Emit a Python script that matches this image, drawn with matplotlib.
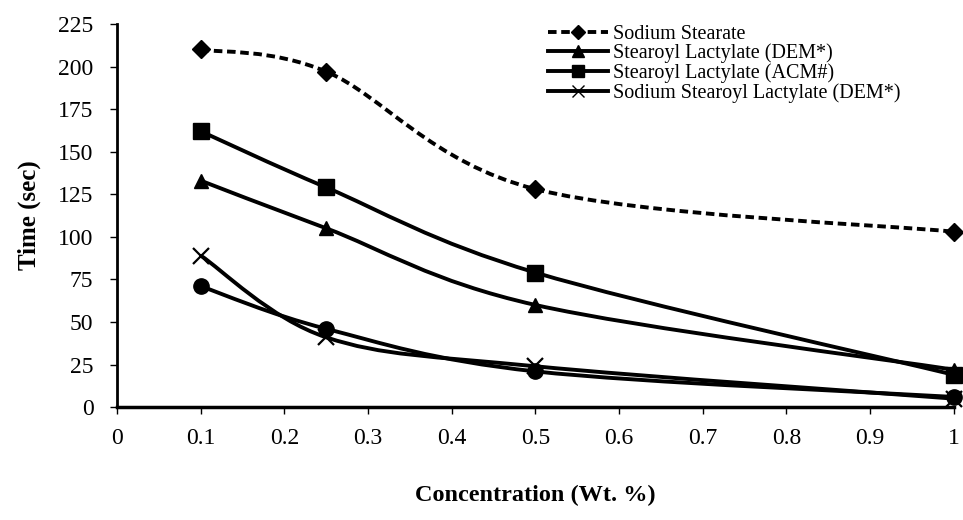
import numpy as np
import matplotlib
matplotlib.use("Agg")
import matplotlib.pyplot as plt
from matplotlib.path import Path
from matplotlib.patches import PathPatch
from matplotlib.lines import Line2D

conc = [0.1, 0.25, 0.5, 1.0]
sodium_stearate = [210, 197, 128, 103]
sl_dem = [133, 105, 60, 22]
sl_acm = [162, 129, 79, 19]
ssl_dem = [89, 41, 24, 5]
unlabelled = [71, 46, 21, 6]

series = [
    ("Sodium Stearate", sodium_stearate, "D", (0, (2.2, 1.2)), 9),
    ("Stearoyl Lactylate (DEM*)", sl_dem, "^", "-", 10),
    ("Stearoyl Lactylate (ACM#)", sl_acm, "s", "-", 11),
    ("Sodium Stearoyl Lactylate (DEM*)", ssl_dem, "x", "-", 11),
    (None, unlabelled, "o", "-", 11),
]

plt.rcParams["font.family"] = ["Liberation Serif", "DejaVu Serif"]


def smooth_path(xs, ys):
    # Excel-like smoothed line: cubic Bezier segments through the points
    pts = np.column_stack([xs, ys]).astype(float)
    verts = [pts[0]]
    codes = [Path.MOVETO]
    n = len(pts)
    for i in range(n - 1):
        p0 = pts[i - 1] if i > 0 else pts[i]
        p1, p2 = pts[i], pts[i + 1]
        p3 = pts[i + 2] if i + 2 < n else pts[i + 1]
        c1 = p1 + (p2 - p0) / 6.0
        c2 = p2 - (p3 - p1) / 6.0
        verts += [c1, c2, p2]
        codes += [Path.CURVE4] * 3
    return Path(verts, codes)


fig = plt.figure(figsize=(9.63, 5.20), dpi=100)
ax = fig.add_axes([0.1215, 0.217, 0.869, 0.737])

handles = []
for label, vals, mk, ls, ms in series:
    ax.add_patch(PathPatch(smooth_path(conc, vals), fill=False,
                           edgecolor="black", lw=2.8, linestyle=ls,
                           capstyle="butt", zorder=2))
    ax.plot(conc, vals, linestyle="none", marker=mk, color="black",
            markersize=ms, markeredgewidth=1.6 if mk == "x" else 1,
            zorder=3, clip_on=False)
    if label:
        handles.append(Line2D([], [], color="black", lw=2.8, linestyle=ls,
                              marker=mk, markersize=ms - 2, label=label))

ax.set_xlim(0, 1)
ax.set_ylim(0, 225)
ax.set_xticks(np.arange(0, 1.01, 0.1))
ax.set_xticklabels(["0", "0.1", "0.2", "0.3", "0.4", "0.5", "0.6",
                    "0.7", "0.8", "0.9", "1"])
ax.set_yticks(np.arange(0, 226, 25))
ax.spines["top"].set_visible(False)
ax.spines["right"].set_visible(False)
ax.spines["left"].set_linewidth(2)
ax.spines["bottom"].set_linewidth(2.5)
ax.tick_params(axis="both", direction="out", length=5, width=1,
               labelsize=17, colors="black")
ax.tick_params(axis="x", pad=10)
ax.tick_params(axis="y", pad=12)

ax.set_xlabel("Concentration (Wt. %)", fontsize=17.5, fontweight="bold",
              labelpad=26)
ax.set_ylabel("Time (sec)", fontsize=18, fontweight="bold", labelpad=12)

ax.legend(handles=handles, loc="upper left", bbox_to_anchor=(0.5, 1.03),
          frameon=False, fontsize=14.5, handlelength=3.0, handletextpad=0.25,
          labelspacing=0.0, borderaxespad=0.2)

fig.savefig("out.png", dpi=100)
